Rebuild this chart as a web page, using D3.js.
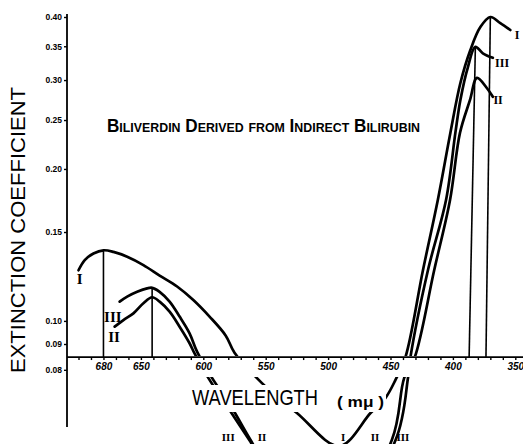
<!DOCTYPE html>
<html>
<head>
<meta charset="utf-8">
<script src="https://cdn.jsdelivr.net/npm/d3@7"></script>
<style>
  html, body { margin: 0; padding: 0; background: #fff; }
  svg { display: block; }
</style>
</head>
<body>
<div id="chart"></div>
<script>
/* Biliverdin absorption curves */
/* [wavelength (m\u03bc), extinction coefficient] */

var curveI = [
  [700, 0.126], [695, 0.132], [688, 0.136], [680, 0.138], [672, 0.137],
  [661, 0.134], [648, 0.129], [635, 0.123], [621, 0.117], [608, 0.110],
  [595, 0.102], [582, 0.0935], [575, 0.0865], [553, 0.0753], [525, 0.0657],
  [491, 0.0565], [466, 0.0657], [454, 0.0704], [446, 0.0764], [438, 0.0848],
  [424, 0.126], [412, 0.174], [402, 0.236], [394, 0.296], [386, 0.344],
  [378, 0.382], [370, 0.400], [362, 0.389], [354, 0.377]
];

var curveII = [
  [671, 0.0974], [664, 0.1004], [656, 0.1035], [648, 0.1084], [641, 0.1114],
  [635, 0.1092], [627, 0.1043], [619, 0.0974], [611, 0.0903], [607, 0.0862],
  [596, 0.0771], [580, 0.0672], [563, 0.058], [505, 0.035], [449, 0.058],
  [439, 0.0771], [430.5, 0.0848], [415, 0.126], [402.3, 0.1736], [394.3, 0.236],
  [386.3, 0.274], [380.7, 0.303], [372.7, 0.289], [368, 0.278]
];

var curveIII = [
  [667, 0.1092], [661, 0.1117], [653, 0.1142], [645, 0.1160], [641, 0.1163],
  [635, 0.1142], [627, 0.1092], [619, 0.1020], [611, 0.0945], [605, 0.0869],
  [593, 0.0771], [577, 0.0672], [562, 0.058], [505, 0.035], [446, 0.058],
  [436, 0.0771], [434, 0.0848], [420, 0.126], [405.5, 0.1736], [398, 0.236],
  [394, 0.274], [388, 0.318], [382, 0.349], [376, 0.339], [368, 0.332]
];

/* maxima with their drop lines: [peak wavelength, peak value, foot wavelength] */
var peaks = [
  [680, 0.138, 680],
  [641, 0.1163, 641],
  [370, 0.400, 373.5],
  [382, 0.349, 387]
];

var yTicks = [0.40, 0.35, 0.30, 0.25, 0.20, 0.15, 0.10, 0.09, 0.08];
var xLabels = [680, 650, 600, 550, 500, 450, 400, 350];
var xMinor = d3.range(700, 345, -10);
var xAxisValue = 0.0848;

/* curve names: [text, wavelength, value] */
var leftNames = [['I', 699, 0.121], ['III', 672.5, 0.1018], ['II', 671.5, 0.0929]];
var rightNames = [['I', 348.6, 0.3685], ['III', 360.6, 0.324], ['II', 363.8, 0.274]];
var bottomNames = [['III', 580, 0.0589], ['II', 553, 0.0589], ['I', 488, 0.0589],
  ['II', 462.4, 0.0589], ['III', 440, 0.0589]];

var width = 523;
var height = 444;

var svg = d3.select('#chart').append('svg')
  .attr('width', width)
  .attr('height', height)
  .style('background', '#fff');

var x = d3.scaleLinear().domain([700, 350]).range([78.5, 515.3]);
var y = d3.scaleLog().domain([0.40, 0.09]).range([17, 344]);
var yBase = y(xAxisValue);
var yAxisX = 67;

// curves leave a gap where they cross the label band under the axis
var clip = svg.append('defs').append('clipPath').attr('id', 'band');
clip.append('rect').attr('x', 0).attr('y', 0)
  .attr('width', width).attr('height', yBase - 1);
clip.append('rect').attr('x', 0).attr('y', yBase + 20)
  .attr('width', width).attr('height', height);

var line = d3.line()
  .x(function(d) { return x(d[0]); })
  .y(function(d) { return y(d[1]); })
  .curve(d3.curveCatmullRom.alpha(0.5));

var curves = svg.append('g').attr('clip-path', 'url(#band)');
[curveI, curveII, curveIII].forEach(function(c) {
  curves.append('path')
    .attr('d', line(c))
    .attr('fill', 'none')
    .attr('stroke', '#000')
    .attr('stroke-width', 2.7)
    .attr('stroke-linecap', 'round')
    .attr('stroke-linejoin', 'round');
});

svg.append('g').selectAll('line').data(peaks).enter()
  .append('line')
  .attr('x1', function(d) { return x(d[0]); })
  .attr('y1', function(d) { return y(d[1]); })
  .attr('x2', function(d) { return x(d[2]); })
  .attr('y2', yBase)
  .attr('stroke', '#000')
  .attr('stroke-width', 1.6);

// axes
var xAxis = svg.append('g').attr('transform', 'translate(0,' + yBase + ')');
xAxis.call(d3.axisBottom(x).tickValues(xMinor).tickSize(3).tickFormat(''));
xAxis.select('.domain').remove();
xAxis.selectAll('.tick line').attr('stroke-width', 1.4);

var xLab = svg.append('g').attr('transform', 'translate(0,' + yBase + ')');
xLab.call(d3.axisBottom(x).tickValues(xLabels).tickSize(0).tickPadding(6)
  .tickFormat(d3.format('d')));
xLab.select('.domain').remove();
xLab.selectAll('text')
  .attr('font-family', 'Liberation Sans, sans-serif')
  .attr('font-size', 10)
  .attr('font-weight', 'bold')
  .attr('font-style', 'italic')
  .attr('fill', '#000');

svg.append('line')
  .attr('x1', yAxisX).attr('x2', width)
  .attr('y1', yBase).attr('y2', yBase)
  .attr('stroke', '#000').attr('stroke-width', 1.8);

var yAxis = svg.append('g').attr('transform', 'translate(' + yAxisX + ',0)');
yAxis.call(d3.axisLeft(y).tickValues(yTicks).tickSize(3).tickPadding(2)
  .tickFormat(d3.format('.2f')));
yAxis.select('.domain').remove();
yAxis.selectAll('.tick line').attr('stroke-width', 1.4);
yAxis.selectAll('text')
  .attr('font-family', 'Liberation Sans, sans-serif')
  .attr('font-size', 8.5)
  .attr('font-weight', 'bold')
  .attr('fill', '#000');

svg.append('line')
  .attr('x1', yAxisX).attr('x2', yAxisX)
  .attr('y1', 14).attr('y2', 427)
  .attr('stroke', '#000').attr('stroke-width', 1.8);

// titles
svg.append('text')
  .attr('transform', 'translate(25,230) rotate(-90)')
  .attr('text-anchor', 'middle')
  .attr('font-family', 'Liberation Sans, sans-serif')
  .attr('font-size', 21)
  .attr('textLength', 286)
  .attr('lengthAdjust', 'spacingAndGlyphs')
  .text('EXTINCTION COEFFICIENT');

svg.append('rect')
  .attr('x', 188).attr('y', 385)
  .attr('width', 198).attr('height', 27)
  .attr('fill', '#fff');

// taller than wide, like the hand lettering
svg.append('text')
  .attr('transform', 'translate(192,405) scale(1,1.25)')
  .attr('font-family', 'Liberation Sans, sans-serif')
  .attr('font-size', 18)
  .attr('textLength', 126)
  .attr('lengthAdjust', 'spacingAndGlyphs')
  .text('WAVELENGTH');

svg.append('text')
  .attr('x', 337).attr('y', 407)
  .attr('font-family', 'Liberation Sans, sans-serif')
  .attr('font-size', 14)
  .attr('font-weight', 'bold')
  .attr('textLength', 47)
  .attr('lengthAdjust', 'spacingAndGlyphs')
  .text('( m\u03bc )');

svg.append('text')
  .attr('x', 107).attr('y', 132)
  .attr('font-family', 'Liberation Sans, sans-serif')
  .attr('font-size', 18)
  .attr('font-weight', 'bold')
  .style('font-variant', 'small-caps')
  .attr('textLength', 313)
  .attr('lengthAdjust', 'spacingAndGlyphs')
  .text('Biliverdin Derived from Indirect Bilirubin');

// curve names
function names(list, size) {
  svg.append('g').selectAll('text').data(list).enter()
    .append('text')
    .attr('x', function(d) { return x(d[1]); })
    .attr('y', function(d) { return y(d[2]); })
    .attr('dy', '0.35em')
    .attr('text-anchor', 'middle')
    .attr('font-family', 'Liberation Serif, serif')
    .attr('font-weight', 'bold')
    .attr('font-size', size)
    .text(function(d) { return d[0]; });
}
names(leftNames, 15);
names(rightNames, 12);
names(bottomNames, 11);
</script>
</body>
</html>
